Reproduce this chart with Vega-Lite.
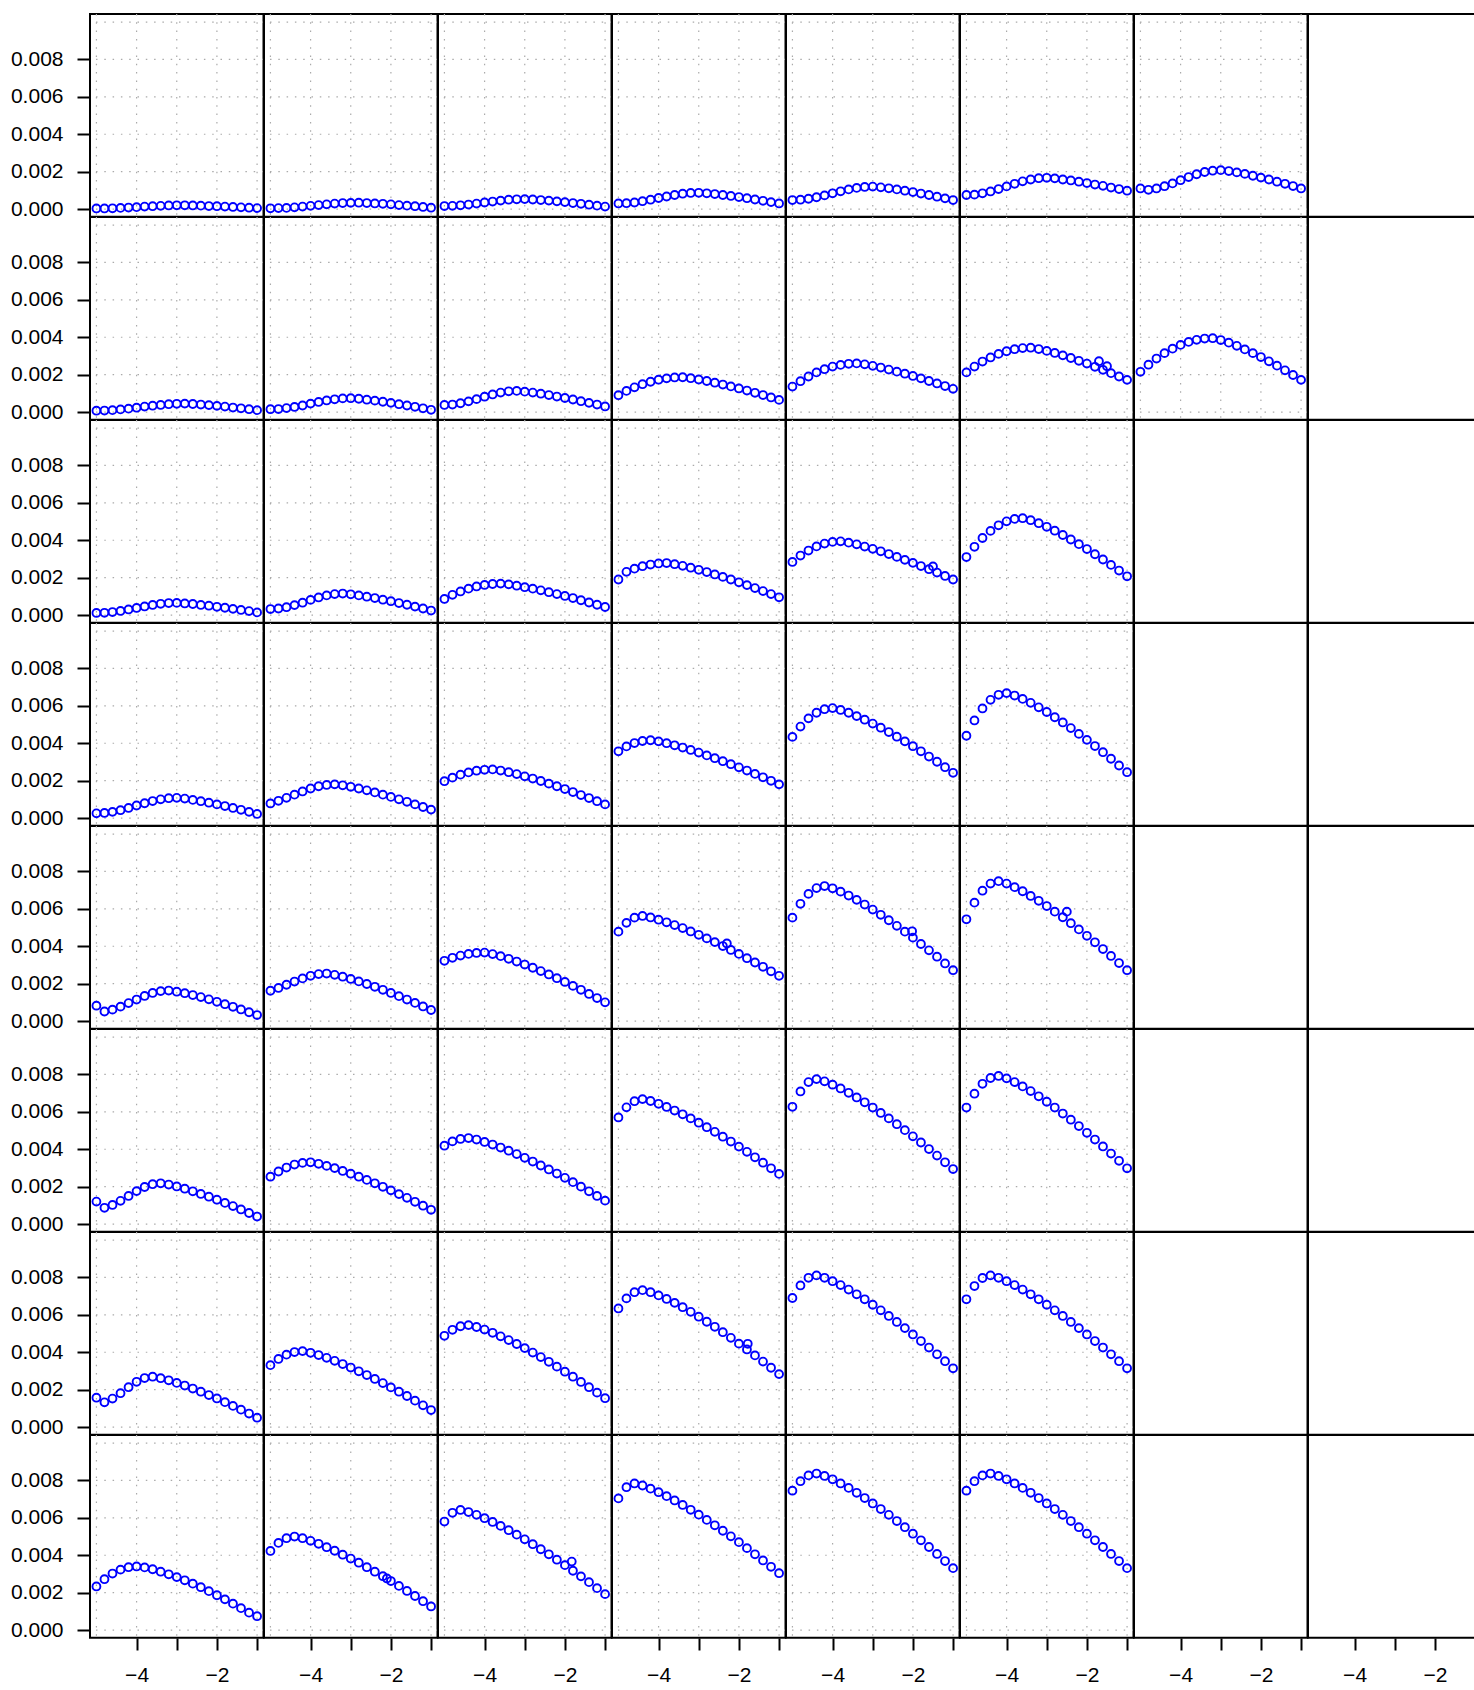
{
"$schema": "https://vega.github.io/schema/vega-lite/v6.json",
"background": "white",
"padding": {"left": 10, "top": 12, "right": 0, "bottom": 0},
"autosize": {"type": "pad"},
"bounds": "flush",
"config": {
  "view": {"stroke": "black", "strokeWidth": 2, "fill": "white"},
  "axis": {"grid": false, "domain": false, "tickColor": "black", "tickWidth": 2, "labelFont": "Liberation Sans", "labelFontSize": 21, "labelColor": "black", "title": null, "labelFlush": false}
},
"spacing": {"row": 0, "column": 0},
"data": {"values": [
{"r":1,"c":1,"x":-5,"y":0.00003},{"r":1,"c":1,"x":-4.8,"y":0.00003},{"r":1,"c":1,"x":-4.6,"y":0.00004},{"r":1,"c":1,"x":-4.4,"y":0.00006},{"r":1,"c":1,"x":-4.2,"y":0.00008},{"r":1,"c":1,"x":-4,"y":0.0001},{"r":1,"c":1,"x":-3.8,"y":0.00013},{"r":1,"c":1,"x":-3.6,"y":0.00015},{"r":1,"c":1,"x":-3.4,"y":0.00017},{"r":1,"c":1,"x":-3.2,"y":0.00019},{"r":1,"c":1,"x":-3,"y":0.0002},{"r":1,"c":1,"x":-2.8,"y":0.0002},{"r":1,"c":1,"x":-2.6,"y":0.00019},{"r":1,"c":1,"x":-2.4,"y":0.00018},{"r":1,"c":1,"x":-2.2,"y":0.00016},{"r":1,"c":1,"x":-2,"y":0.00015},{"r":1,"c":1,"x":-1.8,"y":0.00013},{"r":1,"c":1,"x":-1.6,"y":0.00011},{"r":1,"c":1,"x":-1.4,"y":0.00009},{"r":1,"c":1,"x":-1.2,"y":0.00007},{"r":1,"c":1,"x":-1,"y":0.00005},
{"r":1,"c":2,"x":-5,"y":0.00004},{"r":1,"c":2,"x":-4.8,"y":0.00005},{"r":1,"c":2,"x":-4.6,"y":0.00006},{"r":1,"c":2,"x":-4.4,"y":0.00009},{"r":1,"c":2,"x":-4.2,"y":0.00013},{"r":1,"c":2,"x":-4,"y":0.00017},{"r":1,"c":2,"x":-3.8,"y":0.00021},{"r":1,"c":2,"x":-3.6,"y":0.00025},{"r":1,"c":2,"x":-3.4,"y":0.00029},{"r":1,"c":2,"x":-3.2,"y":0.00032},{"r":1,"c":2,"x":-3,"y":0.00033},{"r":1,"c":2,"x":-2.8,"y":0.00034},{"r":1,"c":2,"x":-2.6,"y":0.00032},{"r":1,"c":2,"x":-2.4,"y":0.0003},{"r":1,"c":2,"x":-2.2,"y":0.00028},{"r":1,"c":2,"x":-2,"y":0.00025},{"r":1,"c":2,"x":-1.8,"y":0.00021},{"r":1,"c":2,"x":-1.6,"y":0.00018},{"r":1,"c":2,"x":-1.4,"y":0.00015},{"r":1,"c":2,"x":-1.2,"y":0.00011},{"r":1,"c":2,"x":-1,"y":0.00007},
{"r":1,"c":3,"x":-5,"y":0.00016},{"r":1,"c":3,"x":-4.8,"y":0.00017},{"r":1,"c":3,"x":-4.6,"y":0.0002},{"r":1,"c":3,"x":-4.4,"y":0.00024},{"r":1,"c":3,"x":-4.2,"y":0.00029},{"r":1,"c":3,"x":-4,"y":0.00035},{"r":1,"c":3,"x":-3.8,"y":0.0004},{"r":1,"c":3,"x":-3.6,"y":0.00045},{"r":1,"c":3,"x":-3.4,"y":0.0005},{"r":1,"c":3,"x":-3.2,"y":0.00052},{"r":1,"c":3,"x":-3,"y":0.00053},{"r":1,"c":3,"x":-2.8,"y":0.00051},{"r":1,"c":3,"x":-2.6,"y":0.00048},{"r":1,"c":3,"x":-2.4,"y":0.00045},{"r":1,"c":3,"x":-2.2,"y":0.00041},{"r":1,"c":3,"x":-2,"y":0.00037},{"r":1,"c":3,"x":-1.8,"y":0.00032},{"r":1,"c":3,"x":-1.6,"y":0.00028},{"r":1,"c":3,"x":-1.4,"y":0.00023},{"r":1,"c":3,"x":-1.2,"y":0.00018},{"r":1,"c":3,"x":-1,"y":0.00013},
{"r":1,"c":4,"x":-5,"y":0.0003},{"r":1,"c":4,"x":-4.8,"y":0.00031},{"r":1,"c":4,"x":-4.6,"y":0.00035},{"r":1,"c":4,"x":-4.4,"y":0.00042},{"r":1,"c":4,"x":-4.2,"y":0.0005},{"r":1,"c":4,"x":-4,"y":0.00059},{"r":1,"c":4,"x":-3.8,"y":0.00067},{"r":1,"c":4,"x":-3.6,"y":0.00075},{"r":1,"c":4,"x":-3.4,"y":0.00082},{"r":1,"c":4,"x":-3.2,"y":0.00086},{"r":1,"c":4,"x":-3,"y":0.00087},{"r":1,"c":4,"x":-2.8,"y":0.00084},{"r":1,"c":4,"x":-2.6,"y":0.0008},{"r":1,"c":4,"x":-2.4,"y":0.00075},{"r":1,"c":4,"x":-2.2,"y":0.0007},{"r":1,"c":4,"x":-2,"y":0.00064},{"r":1,"c":4,"x":-1.8,"y":0.00058},{"r":1,"c":4,"x":-1.6,"y":0.00051},{"r":1,"c":4,"x":-1.4,"y":0.00044},{"r":1,"c":4,"x":-1.2,"y":0.00037},{"r":1,"c":4,"x":-1,"y":0.0003},
{"r":1,"c":5,"x":-5,"y":0.00048},{"r":1,"c":5,"x":-4.8,"y":0.0005},{"r":1,"c":5,"x":-4.6,"y":0.00055},{"r":1,"c":5,"x":-4.4,"y":0.00063},{"r":1,"c":5,"x":-4.2,"y":0.00073},{"r":1,"c":5,"x":-4,"y":0.00084},{"r":1,"c":5,"x":-3.8,"y":0.00095},{"r":1,"c":5,"x":-3.6,"y":0.00105},{"r":1,"c":5,"x":-3.4,"y":0.00113},{"r":1,"c":5,"x":-3.2,"y":0.00118},{"r":1,"c":5,"x":-3,"y":0.0012},{"r":1,"c":5,"x":-2.8,"y":0.00116},{"r":1,"c":5,"x":-2.6,"y":0.00111},{"r":1,"c":5,"x":-2.4,"y":0.00105},{"r":1,"c":5,"x":-2.2,"y":0.00098},{"r":1,"c":5,"x":-2,"y":0.00091},{"r":1,"c":5,"x":-1.8,"y":0.00083},{"r":1,"c":5,"x":-1.6,"y":0.00075},{"r":1,"c":5,"x":-1.4,"y":0.00066},{"r":1,"c":5,"x":-1.2,"y":0.00057},{"r":1,"c":5,"x":-1,"y":0.00048},
{"r":1,"c":6,"x":-5,"y":0.00075},{"r":1,"c":6,"x":-4.8,"y":0.00077},{"r":1,"c":6,"x":-4.6,"y":0.00084},{"r":1,"c":6,"x":-4.4,"y":0.00094},{"r":1,"c":6,"x":-4.2,"y":0.00107},{"r":1,"c":6,"x":-4,"y":0.00121},{"r":1,"c":6,"x":-3.8,"y":0.00135},{"r":1,"c":6,"x":-3.6,"y":0.00148},{"r":1,"c":6,"x":-3.4,"y":0.00158},{"r":1,"c":6,"x":-3.2,"y":0.00165},{"r":1,"c":6,"x":-3,"y":0.00167},{"r":1,"c":6,"x":-2.8,"y":0.00164},{"r":1,"c":6,"x":-2.6,"y":0.00158},{"r":1,"c":6,"x":-2.4,"y":0.00153},{"r":1,"c":6,"x":-2.2,"y":0.00146},{"r":1,"c":6,"x":-2,"y":0.00139},{"r":1,"c":6,"x":-1.8,"y":0.00131},{"r":1,"c":6,"x":-1.6,"y":0.00124},{"r":1,"c":6,"x":-1.4,"y":0.00115},{"r":1,"c":6,"x":-1.2,"y":0.00107},{"r":1,"c":6,"x":-1,"y":0.00098},
{"r":1,"c":7,"x":-5,"y":0.0011},{"r":1,"c":7,"x":-4.8,"y":0.00103},{"r":1,"c":7,"x":-4.6,"y":0.0011},{"r":1,"c":7,"x":-4.4,"y":0.00122},{"r":1,"c":7,"x":-4.2,"y":0.00137},{"r":1,"c":7,"x":-4,"y":0.00154},{"r":1,"c":7,"x":-3.8,"y":0.00171},{"r":1,"c":7,"x":-3.6,"y":0.00186},{"r":1,"c":7,"x":-3.4,"y":0.00198},{"r":1,"c":7,"x":-3.2,"y":0.00205},{"r":1,"c":7,"x":-3,"y":0.00208},{"r":1,"c":7,"x":-2.8,"y":0.00203},{"r":1,"c":7,"x":-2.6,"y":0.00196},{"r":1,"c":7,"x":-2.4,"y":0.00188},{"r":1,"c":7,"x":-2.2,"y":0.00178},{"r":1,"c":7,"x":-2,"y":0.00168},{"r":1,"c":7,"x":-1.8,"y":0.00158},{"r":1,"c":7,"x":-1.6,"y":0.00146},{"r":1,"c":7,"x":-1.4,"y":0.00135},{"r":1,"c":7,"x":-1.2,"y":0.00123},{"r":1,"c":7,"x":-1,"y":0.0011},
{"r":2,"c":1,"x":-5,"y":0.00007},{"r":2,"c":1,"x":-4.8,"y":0.00008},{"r":2,"c":1,"x":-4.6,"y":0.0001},{"r":2,"c":1,"x":-4.4,"y":0.00014},{"r":2,"c":1,"x":-4.2,"y":0.00018},{"r":2,"c":1,"x":-4,"y":0.00023},{"r":2,"c":1,"x":-3.8,"y":0.00029},{"r":2,"c":1,"x":-3.6,"y":0.00034},{"r":2,"c":1,"x":-3.4,"y":0.00038},{"r":2,"c":1,"x":-3.2,"y":0.00042},{"r":2,"c":1,"x":-3,"y":0.00044},{"r":2,"c":1,"x":-2.8,"y":0.00045},{"r":2,"c":1,"x":-2.6,"y":0.00043},{"r":2,"c":1,"x":-2.4,"y":0.0004},{"r":2,"c":1,"x":-2.2,"y":0.00037},{"r":2,"c":1,"x":-2,"y":0.00033},{"r":2,"c":1,"x":-1.8,"y":0.00029},{"r":2,"c":1,"x":-1.6,"y":0.00024},{"r":2,"c":1,"x":-1.4,"y":0.0002},{"r":2,"c":1,"x":-1.2,"y":0.00015},{"r":2,"c":1,"x":-1,"y":0.0001},
{"r":2,"c":2,"x":-5,"y":0.00015},{"r":2,"c":2,"x":-4.8,"y":0.00016},{"r":2,"c":2,"x":-4.6,"y":0.00021},{"r":2,"c":2,"x":-4.4,"y":0.00027},{"r":2,"c":2,"x":-4.2,"y":0.00035},{"r":2,"c":2,"x":-4,"y":0.00045},{"r":2,"c":2,"x":-3.8,"y":0.00054},{"r":2,"c":2,"x":-3.6,"y":0.00062},{"r":2,"c":2,"x":-3.4,"y":0.00068},{"r":2,"c":2,"x":-3.2,"y":0.00073},{"r":2,"c":2,"x":-3,"y":0.00074},{"r":2,"c":2,"x":-2.8,"y":0.00071},{"r":2,"c":2,"x":-2.6,"y":0.00066},{"r":2,"c":2,"x":-2.4,"y":0.00061},{"r":2,"c":2,"x":-2.2,"y":0.00055},{"r":2,"c":2,"x":-2,"y":0.00049},{"r":2,"c":2,"x":-1.8,"y":0.00042},{"r":2,"c":2,"x":-1.6,"y":0.00035},{"r":2,"c":2,"x":-1.4,"y":0.00028},{"r":2,"c":2,"x":-1.2,"y":0.0002},{"r":2,"c":2,"x":-1,"y":0.00012},
{"r":2,"c":3,"x":-5,"y":0.00038},{"r":2,"c":3,"x":-4.8,"y":0.0004},{"r":2,"c":3,"x":-4.6,"y":0.00047},{"r":2,"c":3,"x":-4.4,"y":0.00057},{"r":2,"c":3,"x":-4.2,"y":0.00069},{"r":2,"c":3,"x":-4,"y":0.00082},{"r":2,"c":3,"x":-3.8,"y":0.00094},{"r":2,"c":3,"x":-3.6,"y":0.00104},{"r":2,"c":3,"x":-3.4,"y":0.00111},{"r":2,"c":3,"x":-3.2,"y":0.00113},{"r":2,"c":3,"x":-3,"y":0.00109},{"r":2,"c":3,"x":-2.8,"y":0.00104},{"r":2,"c":3,"x":-2.6,"y":0.00098},{"r":2,"c":3,"x":-2.4,"y":0.00091},{"r":2,"c":3,"x":-2.2,"y":0.00083},{"r":2,"c":3,"x":-2,"y":0.00075},{"r":2,"c":3,"x":-1.8,"y":0.00067},{"r":2,"c":3,"x":-1.6,"y":0.00058},{"r":2,"c":3,"x":-1.4,"y":0.00049},{"r":2,"c":3,"x":-1.2,"y":0.0004},{"r":2,"c":3,"x":-1,"y":0.0003},
{"r":2,"c":4,"x":-5,"y":0.0009},{"r":2,"c":4,"x":-4.8,"y":0.00113},{"r":2,"c":4,"x":-4.6,"y":0.00132},{"r":2,"c":4,"x":-4.4,"y":0.00149},{"r":2,"c":4,"x":-4.2,"y":0.00162},{"r":2,"c":4,"x":-4,"y":0.00173},{"r":2,"c":4,"x":-3.8,"y":0.0018},{"r":2,"c":4,"x":-3.6,"y":0.00185},{"r":2,"c":4,"x":-3.4,"y":0.00186},{"r":2,"c":4,"x":-3.2,"y":0.00181},{"r":2,"c":4,"x":-3,"y":0.00174},{"r":2,"c":4,"x":-2.8,"y":0.00166},{"r":2,"c":4,"x":-2.6,"y":0.00157},{"r":2,"c":4,"x":-2.4,"y":0.00147},{"r":2,"c":4,"x":-2.2,"y":0.00137},{"r":2,"c":4,"x":-2,"y":0.00126},{"r":2,"c":4,"x":-1.8,"y":0.00115},{"r":2,"c":4,"x":-1.6,"y":0.00103},{"r":2,"c":4,"x":-1.4,"y":0.00091},{"r":2,"c":4,"x":-1.2,"y":0.00078},{"r":2,"c":4,"x":-1,"y":0.00065},
{"r":2,"c":5,"x":-5,"y":0.00136},{"r":2,"c":5,"x":-4.8,"y":0.00165},{"r":2,"c":5,"x":-4.6,"y":0.0019},{"r":2,"c":5,"x":-4.4,"y":0.00212},{"r":2,"c":5,"x":-4.2,"y":0.00229},{"r":2,"c":5,"x":-4,"y":0.00243},{"r":2,"c":5,"x":-3.8,"y":0.00252},{"r":2,"c":5,"x":-3.6,"y":0.00258},{"r":2,"c":5,"x":-3.4,"y":0.0026},{"r":2,"c":5,"x":-3.2,"y":0.00255},{"r":2,"c":5,"x":-3,"y":0.00247},{"r":2,"c":5,"x":-2.8,"y":0.00238},{"r":2,"c":5,"x":-2.6,"y":0.00227},{"r":2,"c":5,"x":-2.4,"y":0.00216},{"r":2,"c":5,"x":-2.2,"y":0.00205},{"r":2,"c":5,"x":-2,"y":0.00193},{"r":2,"c":5,"x":-1.8,"y":0.0018},{"r":2,"c":5,"x":-1.6,"y":0.00166},{"r":2,"c":5,"x":-1.4,"y":0.00153},{"r":2,"c":5,"x":-1.2,"y":0.00139},{"r":2,"c":5,"x":-1,"y":0.00124},
{"r":2,"c":6,"x":-5,"y":0.00212},{"r":2,"c":6,"x":-4.8,"y":0.00243},{"r":2,"c":6,"x":-4.6,"y":0.0027},{"r":2,"c":6,"x":-4.4,"y":0.00292},{"r":2,"c":6,"x":-4.2,"y":0.00311},{"r":2,"c":6,"x":-4,"y":0.00325},{"r":2,"c":6,"x":-3.8,"y":0.00336},{"r":2,"c":6,"x":-3.6,"y":0.00342},{"r":2,"c":6,"x":-3.4,"y":0.00344},{"r":2,"c":6,"x":-3.2,"y":0.00337},{"r":2,"c":6,"x":-3,"y":0.00327},{"r":2,"c":6,"x":-2.8,"y":0.00316},{"r":2,"c":6,"x":-2.6,"y":0.00303},{"r":2,"c":6,"x":-2.4,"y":0.00289},{"r":2,"c":6,"x":-2.2,"y":0.00274},{"r":2,"c":6,"x":-2,"y":0.00259},{"r":2,"c":6,"x":-1.8,"y":0.00242},{"r":2,"c":6,"x":-1.6,"y":0.00226},{"r":2,"c":6,"x":-1.4,"y":0.00208},{"r":2,"c":6,"x":-1.2,"y":0.0019},{"r":2,"c":6,"x":-1,"y":0.00172},{"r":2,"c":6,"x":-1.7,"y":0.00272},{"r":2,"c":6,"x":-1.5,"y":0.00245},
{"r":2,"c":7,"x":-5,"y":0.00215},{"r":2,"c":7,"x":-4.8,"y":0.00253},{"r":2,"c":7,"x":-4.6,"y":0.00286},{"r":2,"c":7,"x":-4.4,"y":0.00315},{"r":2,"c":7,"x":-4.2,"y":0.00339},{"r":2,"c":7,"x":-4,"y":0.00359},{"r":2,"c":7,"x":-3.8,"y":0.00375},{"r":2,"c":7,"x":-3.6,"y":0.00386},{"r":2,"c":7,"x":-3.4,"y":0.00393},{"r":2,"c":7,"x":-3.2,"y":0.00395},{"r":2,"c":7,"x":-3,"y":0.00385},{"r":2,"c":7,"x":-2.8,"y":0.00371},{"r":2,"c":7,"x":-2.6,"y":0.00354},{"r":2,"c":7,"x":-2.4,"y":0.00335},{"r":2,"c":7,"x":-2.2,"y":0.00315},{"r":2,"c":7,"x":-2,"y":0.00294},{"r":2,"c":7,"x":-1.8,"y":0.00271},{"r":2,"c":7,"x":-1.6,"y":0.00248},{"r":2,"c":7,"x":-1.4,"y":0.00223},{"r":2,"c":7,"x":-1.2,"y":0.00198},{"r":2,"c":7,"x":-1,"y":0.00172},
{"r":3,"c":1,"x":-5,"y":0.00011},{"r":3,"c":1,"x":-4.8,"y":0.00012},{"r":3,"c":1,"x":-4.6,"y":0.00016},{"r":3,"c":1,"x":-4.4,"y":0.00022},{"r":3,"c":1,"x":-4.2,"y":0.0003},{"r":3,"c":1,"x":-4,"y":0.00038},{"r":3,"c":1,"x":-3.8,"y":0.00046},{"r":3,"c":1,"x":-3.6,"y":0.00054},{"r":3,"c":1,"x":-3.4,"y":0.0006},{"r":3,"c":1,"x":-3.2,"y":0.00064},{"r":3,"c":1,"x":-3,"y":0.00065},{"r":3,"c":1,"x":-2.8,"y":0.00062},{"r":3,"c":1,"x":-2.6,"y":0.00059},{"r":3,"c":1,"x":-2.4,"y":0.00054},{"r":3,"c":1,"x":-2.2,"y":0.0005},{"r":3,"c":1,"x":-2,"y":0.00044},{"r":3,"c":1,"x":-1.8,"y":0.00039},{"r":3,"c":1,"x":-1.6,"y":0.00033},{"r":3,"c":1,"x":-1.4,"y":0.00027},{"r":3,"c":1,"x":-1.2,"y":0.00021},{"r":3,"c":1,"x":-1,"y":0.00014},
{"r":3,"c":2,"x":-5,"y":0.00032},{"r":3,"c":2,"x":-4.8,"y":0.00035},{"r":3,"c":2,"x":-4.6,"y":0.00042},{"r":3,"c":2,"x":-4.4,"y":0.00053},{"r":3,"c":2,"x":-4.2,"y":0.00066},{"r":3,"c":2,"x":-4,"y":0.00081},{"r":3,"c":2,"x":-3.8,"y":0.00094},{"r":3,"c":2,"x":-3.6,"y":0.00105},{"r":3,"c":2,"x":-3.4,"y":0.00112},{"r":3,"c":2,"x":-3.2,"y":0.00115},{"r":3,"c":2,"x":-3,"y":0.00111},{"r":3,"c":2,"x":-2.8,"y":0.00105},{"r":3,"c":2,"x":-2.6,"y":0.00098},{"r":3,"c":2,"x":-2.4,"y":0.00091},{"r":3,"c":2,"x":-2.2,"y":0.00082},{"r":3,"c":2,"x":-2,"y":0.00074},{"r":3,"c":2,"x":-1.8,"y":0.00064},{"r":3,"c":2,"x":-1.6,"y":0.00055},{"r":3,"c":2,"x":-1.4,"y":0.00045},{"r":3,"c":2,"x":-1.2,"y":0.00035},{"r":3,"c":2,"x":-1,"y":0.00024},
{"r":3,"c":3,"x":-5,"y":0.00086},{"r":3,"c":3,"x":-4.8,"y":0.00108},{"r":3,"c":3,"x":-4.6,"y":0.00126},{"r":3,"c":3,"x":-4.4,"y":0.00141},{"r":3,"c":3,"x":-4.2,"y":0.00153},{"r":3,"c":3,"x":-4,"y":0.00161},{"r":3,"c":3,"x":-3.8,"y":0.00166},{"r":3,"c":3,"x":-3.6,"y":0.00168},{"r":3,"c":3,"x":-3.4,"y":0.00164},{"r":3,"c":3,"x":-3.2,"y":0.00157},{"r":3,"c":3,"x":-3,"y":0.00149},{"r":3,"c":3,"x":-2.8,"y":0.00141},{"r":3,"c":3,"x":-2.6,"y":0.00132},{"r":3,"c":3,"x":-2.4,"y":0.00122},{"r":3,"c":3,"x":-2.2,"y":0.00112},{"r":3,"c":3,"x":-2,"y":0.00102},{"r":3,"c":3,"x":-1.8,"y":0.00091},{"r":3,"c":3,"x":-1.6,"y":0.00079},{"r":3,"c":3,"x":-1.4,"y":0.00067},{"r":3,"c":3,"x":-1.2,"y":0.00055},{"r":3,"c":3,"x":-1,"y":0.00043},
{"r":3,"c":4,"x":-5,"y":0.0019},{"r":3,"c":4,"x":-4.8,"y":0.00231},{"r":3,"c":4,"x":-4.6,"y":0.00248},{"r":3,"c":4,"x":-4.4,"y":0.00261},{"r":3,"c":4,"x":-4.2,"y":0.0027},{"r":3,"c":4,"x":-4,"y":0.00276},{"r":3,"c":4,"x":-3.8,"y":0.00278},{"r":3,"c":4,"x":-3.6,"y":0.00272},{"r":3,"c":4,"x":-3.4,"y":0.00263},{"r":3,"c":4,"x":-3.2,"y":0.00253},{"r":3,"c":4,"x":-3,"y":0.00242},{"r":3,"c":4,"x":-2.8,"y":0.0023},{"r":3,"c":4,"x":-2.6,"y":0.00217},{"r":3,"c":4,"x":-2.4,"y":0.00204},{"r":3,"c":4,"x":-2.2,"y":0.0019},{"r":3,"c":4,"x":-2,"y":0.00175},{"r":3,"c":4,"x":-1.8,"y":0.0016},{"r":3,"c":4,"x":-1.6,"y":0.00144},{"r":3,"c":4,"x":-1.4,"y":0.00128},{"r":3,"c":4,"x":-1.2,"y":0.00112},{"r":3,"c":4,"x":-1,"y":0.00095},
{"r":3,"c":5,"x":-5,"y":0.00284},{"r":3,"c":5,"x":-4.8,"y":0.00318},{"r":3,"c":5,"x":-4.6,"y":0.00345},{"r":3,"c":5,"x":-4.4,"y":0.00367},{"r":3,"c":5,"x":-4.2,"y":0.00382},{"r":3,"c":5,"x":-4,"y":0.00391},{"r":3,"c":5,"x":-3.8,"y":0.00394},{"r":3,"c":5,"x":-3.6,"y":0.00387},{"r":3,"c":5,"x":-3.4,"y":0.00378},{"r":3,"c":5,"x":-3.2,"y":0.00366},{"r":3,"c":5,"x":-3,"y":0.00354},{"r":3,"c":5,"x":-2.8,"y":0.00341},{"r":3,"c":5,"x":-2.6,"y":0.00326},{"r":3,"c":5,"x":-2.4,"y":0.00311},{"r":3,"c":5,"x":-2.2,"y":0.00295},{"r":3,"c":5,"x":-2,"y":0.00279},{"r":3,"c":5,"x":-1.8,"y":0.00262},{"r":3,"c":5,"x":-1.6,"y":0.00245},{"r":3,"c":5,"x":-1.4,"y":0.00227},{"r":3,"c":5,"x":-1.2,"y":0.00209},{"r":3,"c":5,"x":-1,"y":0.0019},{"r":3,"c":5,"x":-1.5,"y":0.0026},
{"r":3,"c":6,"x":-5,"y":0.0031},{"r":3,"c":6,"x":-4.8,"y":0.00365},{"r":3,"c":6,"x":-4.6,"y":0.00412},{"r":3,"c":6,"x":-4.4,"y":0.0045},{"r":3,"c":6,"x":-4.2,"y":0.0048},{"r":3,"c":6,"x":-4,"y":0.00501},{"r":3,"c":6,"x":-3.8,"y":0.00514},{"r":3,"c":6,"x":-3.6,"y":0.00518},{"r":3,"c":6,"x":-3.4,"y":0.00507},{"r":3,"c":6,"x":-3.2,"y":0.00491},{"r":3,"c":6,"x":-3,"y":0.00472},{"r":3,"c":6,"x":-2.8,"y":0.00451},{"r":3,"c":6,"x":-2.6,"y":0.00428},{"r":3,"c":6,"x":-2.4,"y":0.00404},{"r":3,"c":6,"x":-2.2,"y":0.00379},{"r":3,"c":6,"x":-2,"y":0.00353},{"r":3,"c":6,"x":-1.8,"y":0.00325},{"r":3,"c":6,"x":-1.6,"y":0.00297},{"r":3,"c":6,"x":-1.4,"y":0.00268},{"r":3,"c":6,"x":-1.2,"y":0.00238},{"r":3,"c":6,"x":-1,"y":0.00207},
{"r":4,"c":1,"x":-5,"y":0.00025},{"r":4,"c":1,"x":-4.8,"y":0.00027},{"r":4,"c":1,"x":-4.6,"y":0.00033},{"r":4,"c":1,"x":-4.4,"y":0.00042},{"r":4,"c":1,"x":-4.2,"y":0.00054},{"r":4,"c":1,"x":-4,"y":0.00067},{"r":4,"c":1,"x":-3.8,"y":0.00079},{"r":4,"c":1,"x":-3.6,"y":0.00091},{"r":4,"c":1,"x":-3.4,"y":0.001},{"r":4,"c":1,"x":-3.2,"y":0.00106},{"r":4,"c":1,"x":-3,"y":0.00108},{"r":4,"c":1,"x":-2.8,"y":0.00104},{"r":4,"c":1,"x":-2.6,"y":0.00097},{"r":4,"c":1,"x":-2.4,"y":0.0009},{"r":4,"c":1,"x":-2.2,"y":0.00082},{"r":4,"c":1,"x":-2,"y":0.00073},{"r":4,"c":1,"x":-1.8,"y":0.00064},{"r":4,"c":1,"x":-1.6,"y":0.00054},{"r":4,"c":1,"x":-1.4,"y":0.00044},{"r":4,"c":1,"x":-1.2,"y":0.00033},{"r":4,"c":1,"x":-1,"y":0.00022},
{"r":4,"c":2,"x":-5,"y":0.00078},{"r":4,"c":2,"x":-4.8,"y":0.00092},{"r":4,"c":2,"x":-4.6,"y":0.00108},{"r":4,"c":2,"x":-4.4,"y":0.00125},{"r":4,"c":2,"x":-4.2,"y":0.00142},{"r":4,"c":2,"x":-4,"y":0.00158},{"r":4,"c":2,"x":-3.8,"y":0.0017},{"r":4,"c":2,"x":-3.6,"y":0.00177},{"r":4,"c":2,"x":-3.4,"y":0.0018},{"r":4,"c":2,"x":-3.2,"y":0.00175},{"r":4,"c":2,"x":-3,"y":0.00167},{"r":4,"c":2,"x":-2.8,"y":0.00158},{"r":4,"c":2,"x":-2.6,"y":0.00148},{"r":4,"c":2,"x":-2.4,"y":0.00137},{"r":4,"c":2,"x":-2.2,"y":0.00125},{"r":4,"c":2,"x":-2,"y":0.00113},{"r":4,"c":2,"x":-1.8,"y":0.001},{"r":4,"c":2,"x":-1.6,"y":0.00087},{"r":4,"c":2,"x":-1.4,"y":0.00073},{"r":4,"c":2,"x":-1.2,"y":0.00059},{"r":4,"c":2,"x":-1,"y":0.00045},
{"r":4,"c":3,"x":-5,"y":0.00197},{"r":4,"c":3,"x":-4.8,"y":0.00216},{"r":4,"c":3,"x":-4.6,"y":0.00232},{"r":4,"c":3,"x":-4.4,"y":0.00244},{"r":4,"c":3,"x":-4.2,"y":0.00253},{"r":4,"c":3,"x":-4,"y":0.00258},{"r":4,"c":3,"x":-3.8,"y":0.0026},{"r":4,"c":3,"x":-3.6,"y":0.00254},{"r":4,"c":3,"x":-3.4,"y":0.00245},{"r":4,"c":3,"x":-3.2,"y":0.00235},{"r":4,"c":3,"x":-3,"y":0.00223},{"r":4,"c":3,"x":-2.8,"y":0.00211},{"r":4,"c":3,"x":-2.6,"y":0.00198},{"r":4,"c":3,"x":-2.4,"y":0.00184},{"r":4,"c":3,"x":-2.2,"y":0.0017},{"r":4,"c":3,"x":-2,"y":0.00155},{"r":4,"c":3,"x":-1.8,"y":0.00139},{"r":4,"c":3,"x":-1.6,"y":0.00123},{"r":4,"c":3,"x":-1.4,"y":0.00107},{"r":4,"c":3,"x":-1.2,"y":0.0009},{"r":4,"c":3,"x":-1,"y":0.00073},
{"r":4,"c":4,"x":-5,"y":0.00357},{"r":4,"c":4,"x":-4.8,"y":0.00383},{"r":4,"c":4,"x":-4.6,"y":0.00401},{"r":4,"c":4,"x":-4.4,"y":0.00412},{"r":4,"c":4,"x":-4.2,"y":0.00416},{"r":4,"c":4,"x":-4,"y":0.0041},{"r":4,"c":4,"x":-3.8,"y":0.004},{"r":4,"c":4,"x":-3.6,"y":0.00389},{"r":4,"c":4,"x":-3.4,"y":0.00377},{"r":4,"c":4,"x":-3.2,"y":0.00364},{"r":4,"c":4,"x":-3,"y":0.0035},{"r":4,"c":4,"x":-2.8,"y":0.00335},{"r":4,"c":4,"x":-2.6,"y":0.0032},{"r":4,"c":4,"x":-2.4,"y":0.00304},{"r":4,"c":4,"x":-2.2,"y":0.00288},{"r":4,"c":4,"x":-2,"y":0.00271},{"r":4,"c":4,"x":-1.8,"y":0.00254},{"r":4,"c":4,"x":-1.6,"y":0.00236},{"r":4,"c":4,"x":-1.4,"y":0.00218},{"r":4,"c":4,"x":-1.2,"y":0.00199},{"r":4,"c":4,"x":-1,"y":0.0018},
{"r":4,"c":5,"x":-5,"y":0.00434},{"r":4,"c":5,"x":-4.8,"y":0.00489},{"r":4,"c":5,"x":-4.6,"y":0.00533},{"r":4,"c":5,"x":-4.4,"y":0.00563},{"r":4,"c":5,"x":-4.2,"y":0.00582},{"r":4,"c":5,"x":-4,"y":0.00588},{"r":4,"c":5,"x":-3.8,"y":0.00578},{"r":4,"c":5,"x":-3.6,"y":0.00563},{"r":4,"c":5,"x":-3.4,"y":0.00545},{"r":4,"c":5,"x":-3.2,"y":0.00526},{"r":4,"c":5,"x":-3,"y":0.00505},{"r":4,"c":5,"x":-2.8,"y":0.00483},{"r":4,"c":5,"x":-2.6,"y":0.0046},{"r":4,"c":5,"x":-2.4,"y":0.00435},{"r":4,"c":5,"x":-2.2,"y":0.0041},{"r":4,"c":5,"x":-2,"y":0.00384},{"r":4,"c":5,"x":-1.8,"y":0.00357},{"r":4,"c":5,"x":-1.6,"y":0.00329},{"r":4,"c":5,"x":-1.4,"y":0.00301},{"r":4,"c":5,"x":-1.2,"y":0.00272},{"r":4,"c":5,"x":-1,"y":0.00242},
{"r":4,"c":6,"x":-5,"y":0.0044},{"r":4,"c":6,"x":-4.8,"y":0.00522},{"r":4,"c":6,"x":-4.6,"y":0.00586},{"r":4,"c":6,"x":-4.4,"y":0.00632},{"r":4,"c":6,"x":-4.2,"y":0.00659},{"r":4,"c":6,"x":-4,"y":0.00668},{"r":4,"c":6,"x":-3.8,"y":0.00655},{"r":4,"c":6,"x":-3.6,"y":0.00637},{"r":4,"c":6,"x":-3.4,"y":0.00616},{"r":4,"c":6,"x":-3.2,"y":0.00592},{"r":4,"c":6,"x":-3,"y":0.00567},{"r":4,"c":6,"x":-2.8,"y":0.00539},{"r":4,"c":6,"x":-2.6,"y":0.00511},{"r":4,"c":6,"x":-2.4,"y":0.00481},{"r":4,"c":6,"x":-2.2,"y":0.0045},{"r":4,"c":6,"x":-2,"y":0.00418},{"r":4,"c":6,"x":-1.8,"y":0.00385},{"r":4,"c":6,"x":-1.6,"y":0.00352},{"r":4,"c":6,"x":-1.4,"y":0.00317},{"r":4,"c":6,"x":-1.2,"y":0.00281},{"r":4,"c":6,"x":-1,"y":0.00245},
{"r":5,"c":1,"x":-5,"y":0.00082},{"r":5,"c":1,"x":-4.8,"y":0.00051},{"r":5,"c":1,"x":-4.6,"y":0.00061},{"r":5,"c":1,"x":-4.4,"y":0.00077},{"r":5,"c":1,"x":-4.2,"y":0.00096},{"r":5,"c":1,"x":-4,"y":0.00115},{"r":5,"c":1,"x":-3.8,"y":0.00134},{"r":5,"c":1,"x":-3.6,"y":0.0015},{"r":5,"c":1,"x":-3.4,"y":0.0016},{"r":5,"c":1,"x":-3.2,"y":0.00163},{"r":5,"c":1,"x":-3,"y":0.00157},{"r":5,"c":1,"x":-2.8,"y":0.00149},{"r":5,"c":1,"x":-2.6,"y":0.00139},{"r":5,"c":1,"x":-2.4,"y":0.00128},{"r":5,"c":1,"x":-2.2,"y":0.00116},{"r":5,"c":1,"x":-2,"y":0.00103},{"r":5,"c":1,"x":-1.8,"y":0.0009},{"r":5,"c":1,"x":-1.6,"y":0.00076},{"r":5,"c":1,"x":-1.4,"y":0.00062},{"r":5,"c":1,"x":-1.2,"y":0.00047},{"r":5,"c":1,"x":-1,"y":0.00032},
{"r":5,"c":2,"x":-5,"y":0.00162},{"r":5,"c":2,"x":-4.8,"y":0.00177},{"r":5,"c":2,"x":-4.6,"y":0.00194},{"r":5,"c":2,"x":-4.4,"y":0.00211},{"r":5,"c":2,"x":-4.2,"y":0.00228},{"r":5,"c":2,"x":-4,"y":0.00242},{"r":5,"c":2,"x":-3.8,"y":0.00251},{"r":5,"c":2,"x":-3.6,"y":0.00254},{"r":5,"c":2,"x":-3.4,"y":0.00247},{"r":5,"c":2,"x":-3.2,"y":0.00237},{"r":5,"c":2,"x":-3,"y":0.00225},{"r":5,"c":2,"x":-2.8,"y":0.00212},{"r":5,"c":2,"x":-2.6,"y":0.00198},{"r":5,"c":2,"x":-2.4,"y":0.00183},{"r":5,"c":2,"x":-2.2,"y":0.00167},{"r":5,"c":2,"x":-2,"y":0.0015},{"r":5,"c":2,"x":-1.8,"y":0.00133},{"r":5,"c":2,"x":-1.6,"y":0.00115},{"r":5,"c":2,"x":-1.4,"y":0.00097},{"r":5,"c":2,"x":-1.2,"y":0.00078},{"r":5,"c":2,"x":-1,"y":0.00059},
{"r":5,"c":3,"x":-5,"y":0.00322},{"r":5,"c":3,"x":-4.8,"y":0.00338},{"r":5,"c":3,"x":-4.6,"y":0.0035},{"r":5,"c":3,"x":-4.4,"y":0.00359},{"r":5,"c":3,"x":-4.2,"y":0.00364},{"r":5,"c":3,"x":-4,"y":0.00366},{"r":5,"c":3,"x":-3.8,"y":0.00358},{"r":5,"c":3,"x":-3.6,"y":0.00347},{"r":5,"c":3,"x":-3.4,"y":0.00333},{"r":5,"c":3,"x":-3.2,"y":0.00318},{"r":5,"c":3,"x":-3,"y":0.00302},{"r":5,"c":3,"x":-2.8,"y":0.00285},{"r":5,"c":3,"x":-2.6,"y":0.00267},{"r":5,"c":3,"x":-2.4,"y":0.00249},{"r":5,"c":3,"x":-2.2,"y":0.00229},{"r":5,"c":3,"x":-2,"y":0.00209},{"r":5,"c":3,"x":-1.8,"y":0.00188},{"r":5,"c":3,"x":-1.6,"y":0.00167},{"r":5,"c":3,"x":-1.4,"y":0.00145},{"r":5,"c":3,"x":-1.2,"y":0.00123},{"r":5,"c":3,"x":-1,"y":0.001},
{"r":5,"c":4,"x":-5,"y":0.00478},{"r":5,"c":4,"x":-4.8,"y":0.00525},{"r":5,"c":4,"x":-4.6,"y":0.00553},{"r":5,"c":4,"x":-4.4,"y":0.00562},{"r":5,"c":4,"x":-4.2,"y":0.00554},{"r":5,"c":4,"x":-4,"y":0.00542},{"r":5,"c":4,"x":-3.8,"y":0.00528},{"r":5,"c":4,"x":-3.6,"y":0.00513},{"r":5,"c":4,"x":-3.4,"y":0.00497},{"r":5,"c":4,"x":-3.2,"y":0.00479},{"r":5,"c":4,"x":-3,"y":0.00461},{"r":5,"c":4,"x":-2.8,"y":0.00442},{"r":5,"c":4,"x":-2.6,"y":0.00422},{"r":5,"c":4,"x":-2.4,"y":0.00401},{"r":5,"c":4,"x":-2.2,"y":0.0038},{"r":5,"c":4,"x":-2,"y":0.00359},{"r":5,"c":4,"x":-1.8,"y":0.00336},{"r":5,"c":4,"x":-1.6,"y":0.00313},{"r":5,"c":4,"x":-1.4,"y":0.0029},{"r":5,"c":4,"x":-1.2,"y":0.00266},{"r":5,"c":4,"x":-1,"y":0.00242},{"r":5,"c":4,"x":-2.3,"y":0.00415},
{"r":5,"c":5,"x":-5,"y":0.00553},{"r":5,"c":5,"x":-4.8,"y":0.00627},{"r":5,"c":5,"x":-4.6,"y":0.0068},{"r":5,"c":5,"x":-4.4,"y":0.00711},{"r":5,"c":5,"x":-4.2,"y":0.00722},{"r":5,"c":5,"x":-4,"y":0.0071},{"r":5,"c":5,"x":-3.8,"y":0.00692},{"r":5,"c":5,"x":-3.6,"y":0.00671},{"r":5,"c":5,"x":-3.4,"y":0.00648},{"r":5,"c":5,"x":-3.2,"y":0.00623},{"r":5,"c":5,"x":-3,"y":0.00596},{"r":5,"c":5,"x":-2.8,"y":0.00568},{"r":5,"c":5,"x":-2.6,"y":0.00539},{"r":5,"c":5,"x":-2.4,"y":0.00509},{"r":5,"c":5,"x":-2.2,"y":0.00478},{"r":5,"c":5,"x":-2,"y":0.00446},{"r":5,"c":5,"x":-1.8,"y":0.00412},{"r":5,"c":5,"x":-1.6,"y":0.00378},{"r":5,"c":5,"x":-1.4,"y":0.00344},{"r":5,"c":5,"x":-1.2,"y":0.00308},{"r":5,"c":5,"x":-1,"y":0.00272},{"r":5,"c":5,"x":-2.02,"y":0.0048},
{"r":5,"c":6,"x":-5,"y":0.00544},{"r":5,"c":6,"x":-4.8,"y":0.00633},{"r":5,"c":6,"x":-4.6,"y":0.00697},{"r":5,"c":6,"x":-4.4,"y":0.00735},{"r":5,"c":6,"x":-4.2,"y":0.00748},{"r":5,"c":6,"x":-4,"y":0.00735},{"r":5,"c":6,"x":-3.8,"y":0.00716},{"r":5,"c":6,"x":-3.6,"y":0.00694},{"r":5,"c":6,"x":-3.4,"y":0.00669},{"r":5,"c":6,"x":-3.2,"y":0.00643},{"r":5,"c":6,"x":-3,"y":0.00615},{"r":5,"c":6,"x":-2.8,"y":0.00585},{"r":5,"c":6,"x":-2.6,"y":0.00555},{"r":5,"c":6,"x":-2.4,"y":0.00523},{"r":5,"c":6,"x":-2.2,"y":0.0049},{"r":5,"c":6,"x":-2,"y":0.00456},{"r":5,"c":6,"x":-1.8,"y":0.00421},{"r":5,"c":6,"x":-1.6,"y":0.00385},{"r":5,"c":6,"x":-1.4,"y":0.00348},{"r":5,"c":6,"x":-1.2,"y":0.0031},{"r":5,"c":6,"x":-1,"y":0.00272},{"r":5,"c":6,"x":-2.5,"y":0.00585},
{"r":6,"c":1,"x":-5,"y":0.0012},{"r":6,"c":1,"x":-4.8,"y":0.00087},{"r":6,"c":1,"x":-4.6,"y":0.00102},{"r":6,"c":1,"x":-4.4,"y":0.00124},{"r":6,"c":1,"x":-4.2,"y":0.0015},{"r":6,"c":1,"x":-4,"y":0.00176},{"r":6,"c":1,"x":-3.8,"y":0.00198},{"r":6,"c":1,"x":-3.6,"y":0.00213},{"r":6,"c":1,"x":-3.4,"y":0.00218},{"r":6,"c":1,"x":-3.2,"y":0.00211},{"r":6,"c":1,"x":-3,"y":0.00201},{"r":6,"c":1,"x":-2.8,"y":0.00189},{"r":6,"c":1,"x":-2.6,"y":0.00175},{"r":6,"c":1,"x":-2.4,"y":0.00161},{"r":6,"c":1,"x":-2.2,"y":0.00146},{"r":6,"c":1,"x":-2,"y":0.0013},{"r":6,"c":1,"x":-1.8,"y":0.00113},{"r":6,"c":1,"x":-1.6,"y":0.00096},{"r":6,"c":1,"x":-1.4,"y":0.00078},{"r":6,"c":1,"x":-1.2,"y":0.00059},{"r":6,"c":1,"x":-1,"y":0.0004},
{"r":6,"c":2,"x":-5,"y":0.00253},{"r":6,"c":2,"x":-4.8,"y":0.00281},{"r":6,"c":2,"x":-4.6,"y":0.00302},{"r":6,"c":2,"x":-4.4,"y":0.00318},{"r":6,"c":2,"x":-4.2,"y":0.00327},{"r":6,"c":2,"x":-4,"y":0.0033},{"r":6,"c":2,"x":-3.8,"y":0.00322},{"r":6,"c":2,"x":-3.6,"y":0.00311},{"r":6,"c":2,"x":-3.4,"y":0.00299},{"r":6,"c":2,"x":-3.2,"y":0.00284},{"r":6,"c":2,"x":-3,"y":0.00269},{"r":6,"c":2,"x":-2.8,"y":0.00253},{"r":6,"c":2,"x":-2.6,"y":0.00236},{"r":6,"c":2,"x":-2.4,"y":0.00218},{"r":6,"c":2,"x":-2.2,"y":0.00199},{"r":6,"c":2,"x":-2,"y":0.0018},{"r":6,"c":2,"x":-1.8,"y":0.0016},{"r":6,"c":2,"x":-1.6,"y":0.0014},{"r":6,"c":2,"x":-1.4,"y":0.00119},{"r":6,"c":2,"x":-1.2,"y":0.00098},{"r":6,"c":2,"x":-1,"y":0.00076},
{"r":6,"c":3,"x":-5,"y":0.00419},{"r":6,"c":3,"x":-4.8,"y":0.00442},{"r":6,"c":3,"x":-4.6,"y":0.00455},{"r":6,"c":3,"x":-4.4,"y":0.0046},{"r":6,"c":3,"x":-4.2,"y":0.00452},{"r":6,"c":3,"x":-4,"y":0.00439},{"r":6,"c":3,"x":-3.8,"y":0.00425},{"r":6,"c":3,"x":-3.6,"y":0.00409},{"r":6,"c":3,"x":-3.4,"y":0.00392},{"r":6,"c":3,"x":-3.2,"y":0.00374},{"r":6,"c":3,"x":-3,"y":0.00354},{"r":6,"c":3,"x":-2.8,"y":0.00334},{"r":6,"c":3,"x":-2.6,"y":0.00313},{"r":6,"c":3,"x":-2.4,"y":0.00292},{"r":6,"c":3,"x":-2.2,"y":0.0027},{"r":6,"c":3,"x":-2,"y":0.00247},{"r":6,"c":3,"x":-1.8,"y":0.00224},{"r":6,"c":3,"x":-1.6,"y":0.002},{"r":6,"c":3,"x":-1.4,"y":0.00175},{"r":6,"c":3,"x":-1.2,"y":0.0015},{"r":6,"c":3,"x":-1,"y":0.00125},
{"r":6,"c":4,"x":-5,"y":0.0057},{"r":6,"c":4,"x":-4.8,"y":0.00624},{"r":6,"c":4,"x":-4.6,"y":0.00657},{"r":6,"c":4,"x":-4.4,"y":0.00668},{"r":6,"c":4,"x":-4.2,"y":0.00658},{"r":6,"c":4,"x":-4,"y":0.00643},{"r":6,"c":4,"x":-3.8,"y":0.00626},{"r":6,"c":4,"x":-3.6,"y":0.00607},{"r":6,"c":4,"x":-3.4,"y":0.00587},{"r":6,"c":4,"x":-3.2,"y":0.00565},{"r":6,"c":4,"x":-3,"y":0.00542},{"r":6,"c":4,"x":-2.8,"y":0.00518},{"r":6,"c":4,"x":-2.6,"y":0.00493},{"r":6,"c":4,"x":-2.4,"y":0.00467},{"r":6,"c":4,"x":-2.2,"y":0.00441},{"r":6,"c":4,"x":-2,"y":0.00414},{"r":6,"c":4,"x":-1.8,"y":0.00386},{"r":6,"c":4,"x":-1.6,"y":0.00357},{"r":6,"c":4,"x":-1.4,"y":0.00328},{"r":6,"c":4,"x":-1.2,"y":0.00298},{"r":6,"c":4,"x":-1,"y":0.00268},
{"r":6,"c":5,"x":-5,"y":0.00627},{"r":6,"c":5,"x":-4.8,"y":0.00709},{"r":6,"c":5,"x":-4.6,"y":0.00759},{"r":6,"c":5,"x":-4.4,"y":0.00775},{"r":6,"c":5,"x":-4.2,"y":0.00763},{"r":6,"c":5,"x":-4,"y":0.00745},{"r":6,"c":5,"x":-3.8,"y":0.00725},{"r":6,"c":5,"x":-3.6,"y":0.00702},{"r":6,"c":5,"x":-3.4,"y":0.00677},{"r":6,"c":5,"x":-3.2,"y":0.00651},{"r":6,"c":5,"x":-3,"y":0.00623},{"r":6,"c":5,"x":-2.8,"y":0.00594},{"r":6,"c":5,"x":-2.6,"y":0.00565},{"r":6,"c":5,"x":-2.4,"y":0.00534},{"r":6,"c":5,"x":-2.2,"y":0.00502},{"r":6,"c":5,"x":-2,"y":0.00469},{"r":6,"c":5,"x":-1.8,"y":0.00436},{"r":6,"c":5,"x":-1.6,"y":0.00401},{"r":6,"c":5,"x":-1.4,"y":0.00366},{"r":6,"c":5,"x":-1.2,"y":0.0033},{"r":6,"c":5,"x":-1,"y":0.00294},
{"r":6,"c":6,"x":-5,"y":0.00623},{"r":6,"c":6,"x":-4.8,"y":0.00697},{"r":6,"c":6,"x":-4.6,"y":0.0075},{"r":6,"c":6,"x":-4.4,"y":0.00781},{"r":6,"c":6,"x":-4.2,"y":0.00792},{"r":6,"c":6,"x":-4,"y":0.00779},{"r":6,"c":6,"x":-3.8,"y":0.00759},{"r":6,"c":6,"x":-3.6,"y":0.00736},{"r":6,"c":6,"x":-3.4,"y":0.00711},{"r":6,"c":6,"x":-3.2,"y":0.00683},{"r":6,"c":6,"x":-3,"y":0.00654},{"r":6,"c":6,"x":-2.8,"y":0.00623},{"r":6,"c":6,"x":-2.6,"y":0.00591},{"r":6,"c":6,"x":-2.4,"y":0.00558},{"r":6,"c":6,"x":-2.2,"y":0.00524},{"r":6,"c":6,"x":-2,"y":0.00488},{"r":6,"c":6,"x":-1.8,"y":0.00452},{"r":6,"c":6,"x":-1.6,"y":0.00415},{"r":6,"c":6,"x":-1.4,"y":0.00377},{"r":6,"c":6,"x":-1.2,"y":0.00338},{"r":6,"c":6,"x":-1,"y":0.00298},
{"r":7,"c":1,"x":-5,"y":0.00157},{"r":7,"c":1,"x":-4.8,"y":0.00132},{"r":7,"c":1,"x":-4.6,"y":0.00152},{"r":7,"c":1,"x":-4.4,"y":0.00181},{"r":7,"c":1,"x":-4.2,"y":0.00213},{"r":7,"c":1,"x":-4,"y":0.00242},{"r":7,"c":1,"x":-3.8,"y":0.00262},{"r":7,"c":1,"x":-3.6,"y":0.00269},{"r":7,"c":1,"x":-3.4,"y":0.00261},{"r":7,"c":1,"x":-3.2,"y":0.0025},{"r":7,"c":1,"x":-3,"y":0.00236},{"r":7,"c":1,"x":-2.8,"y":0.00222},{"r":7,"c":1,"x":-2.6,"y":0.00206},{"r":7,"c":1,"x":-2.4,"y":0.00189},{"r":7,"c":1,"x":-2.2,"y":0.00171},{"r":7,"c":1,"x":-2,"y":0.00153},{"r":7,"c":1,"x":-1.8,"y":0.00133},{"r":7,"c":1,"x":-1.6,"y":0.00113},{"r":7,"c":1,"x":-1.4,"y":0.00093},{"r":7,"c":1,"x":-1.2,"y":0.00072},{"r":7,"c":1,"x":-1,"y":0.0005},
{"r":7,"c":2,"x":-5,"y":0.00331},{"r":7,"c":2,"x":-4.8,"y":0.00364},{"r":7,"c":2,"x":-4.6,"y":0.00387},{"r":7,"c":2,"x":-4.4,"y":0.00401},{"r":7,"c":2,"x":-4.2,"y":0.00406},{"r":7,"c":2,"x":-4,"y":0.00397},{"r":7,"c":2,"x":-3.8,"y":0.00385},{"r":7,"c":2,"x":-3.6,"y":0.0037},{"r":7,"c":2,"x":-3.4,"y":0.00354},{"r":7,"c":2,"x":-3.2,"y":0.00337},{"r":7,"c":2,"x":-3,"y":0.00318},{"r":7,"c":2,"x":-2.8,"y":0.00298},{"r":7,"c":2,"x":-2.6,"y":0.00278},{"r":7,"c":2,"x":-2.4,"y":0.00257},{"r":7,"c":2,"x":-2.2,"y":0.00235},{"r":7,"c":2,"x":-2,"y":0.00212},{"r":7,"c":2,"x":-1.8,"y":0.00189},{"r":7,"c":2,"x":-1.6,"y":0.00166},{"r":7,"c":2,"x":-1.4,"y":0.00141},{"r":7,"c":2,"x":-1.2,"y":0.00116},{"r":7,"c":2,"x":-1,"y":0.00091},
{"r":7,"c":3,"x":-5,"y":0.00488},{"r":7,"c":3,"x":-4.8,"y":0.0052},{"r":7,"c":3,"x":-4.6,"y":0.00539},{"r":7,"c":3,"x":-4.4,"y":0.00545},{"r":7,"c":3,"x":-4.2,"y":0.00535},{"r":7,"c":3,"x":-4,"y":0.00521},{"r":7,"c":3,"x":-3.8,"y":0.00504},{"r":7,"c":3,"x":-3.6,"y":0.00485},{"r":7,"c":3,"x":-3.4,"y":0.00465},{"r":7,"c":3,"x":-3.2,"y":0.00444},{"r":7,"c":3,"x":-3,"y":0.00422},{"r":7,"c":3,"x":-2.8,"y":0.00398},{"r":7,"c":3,"x":-2.6,"y":0.00374},{"r":7,"c":3,"x":-2.4,"y":0.00349},{"r":7,"c":3,"x":-2.2,"y":0.00323},{"r":7,"c":3,"x":-2,"y":0.00296},{"r":7,"c":3,"x":-1.8,"y":0.00269},{"r":7,"c":3,"x":-1.6,"y":0.00241},{"r":7,"c":3,"x":-1.4,"y":0.00213},{"r":7,"c":3,"x":-1.2,"y":0.00184},{"r":7,"c":3,"x":-1,"y":0.00154},
{"r":7,"c":4,"x":-5,"y":0.00634},{"r":7,"c":4,"x":-4.8,"y":0.00688},{"r":7,"c":4,"x":-4.6,"y":0.00721},{"r":7,"c":4,"x":-4.4,"y":0.00732},{"r":7,"c":4,"x":-4.2,"y":0.00721},{"r":7,"c":4,"x":-4,"y":0.00704},{"r":7,"c":4,"x":-3.8,"y":0.00685},{"r":7,"c":4,"x":-3.6,"y":0.00664},{"r":7,"c":4,"x":-3.4,"y":0.00641},{"r":7,"c":4,"x":-3.2,"y":0.00616},{"r":7,"c":4,"x":-3,"y":0.0059},{"r":7,"c":4,"x":-2.8,"y":0.00563},{"r":7,"c":4,"x":-2.6,"y":0.00536},{"r":7,"c":4,"x":-2.4,"y":0.00507},{"r":7,"c":4,"x":-2.2,"y":0.00477},{"r":7,"c":4,"x":-2,"y":0.00446},{"r":7,"c":4,"x":-1.8,"y":0.00415},{"r":7,"c":4,"x":-1.6,"y":0.00383},{"r":7,"c":4,"x":-1.4,"y":0.0035},{"r":7,"c":4,"x":-1.2,"y":0.00317},{"r":7,"c":4,"x":-1,"y":0.00283},{"r":7,"c":4,"x":-1.78,"y":0.00445},
{"r":7,"c":5,"x":-5,"y":0.0069},{"r":7,"c":5,"x":-4.8,"y":0.00757},{"r":7,"c":5,"x":-4.6,"y":0.00798},{"r":7,"c":5,"x":-4.4,"y":0.00811},{"r":7,"c":5,"x":-4.2,"y":0.00798},{"r":7,"c":5,"x":-4,"y":0.0078},{"r":7,"c":5,"x":-3.8,"y":0.00759},{"r":7,"c":5,"x":-3.6,"y":0.00735},{"r":7,"c":5,"x":-3.4,"y":0.0071},{"r":7,"c":5,"x":-3.2,"y":0.00683},{"r":7,"c":5,"x":-3,"y":0.00654},{"r":7,"c":5,"x":-2.8,"y":0.00624},{"r":7,"c":5,"x":-2.6,"y":0.00594},{"r":7,"c":5,"x":-2.4,"y":0.00562},{"r":7,"c":5,"x":-2.2,"y":0.00529},{"r":7,"c":5,"x":-2,"y":0.00495},{"r":7,"c":5,"x":-1.8,"y":0.0046},{"r":7,"c":5,"x":-1.6,"y":0.00425},{"r":7,"c":5,"x":-1.4,"y":0.00389},{"r":7,"c":5,"x":-1.2,"y":0.00352},{"r":7,"c":5,"x":-1,"y":0.00314},
{"r":7,"c":6,"x":-5,"y":0.00683},{"r":7,"c":6,"x":-4.8,"y":0.00754},{"r":7,"c":6,"x":-4.6,"y":0.00797},{"r":7,"c":6,"x":-4.4,"y":0.00811},{"r":7,"c":6,"x":-4.2,"y":0.00798},{"r":7,"c":6,"x":-4,"y":0.0078},{"r":7,"c":6,"x":-3.8,"y":0.00759},{"r":7,"c":6,"x":-3.6,"y":0.00735},{"r":7,"c":6,"x":-3.4,"y":0.0071},{"r":7,"c":6,"x":-3.2,"y":0.00683},{"r":7,"c":6,"x":-3,"y":0.00654},{"r":7,"c":6,"x":-2.8,"y":0.00624},{"r":7,"c":6,"x":-2.6,"y":0.00594},{"r":7,"c":6,"x":-2.4,"y":0.00562},{"r":7,"c":6,"x":-2.2,"y":0.00529},{"r":7,"c":6,"x":-2,"y":0.00495},{"r":7,"c":6,"x":-1.8,"y":0.0046},{"r":7,"c":6,"x":-1.6,"y":0.00425},{"r":7,"c":6,"x":-1.4,"y":0.00389},{"r":7,"c":6,"x":-1.2,"y":0.00352},{"r":7,"c":6,"x":-1,"y":0.00314},
{"r":8,"c":1,"x":-5,"y":0.00233},{"r":8,"c":1,"x":-4.8,"y":0.00272},{"r":8,"c":1,"x":-4.6,"y":0.00302},{"r":8,"c":1,"x":-4.4,"y":0.00323},{"r":8,"c":1,"x":-4.2,"y":0.00336},{"r":8,"c":1,"x":-4,"y":0.0034},{"r":8,"c":1,"x":-3.8,"y":0.00335},{"r":8,"c":1,"x":-3.6,"y":0.00325},{"r":8,"c":1,"x":-3.4,"y":0.00312},{"r":8,"c":1,"x":-3.2,"y":0.00298},{"r":8,"c":1,"x":-3,"y":0.00283},{"r":8,"c":1,"x":-2.8,"y":0.00266},{"r":8,"c":1,"x":-2.6,"y":0.00248},{"r":8,"c":1,"x":-2.4,"y":0.00229},{"r":8,"c":1,"x":-2.2,"y":0.00208},{"r":8,"c":1,"x":-2,"y":0.00186},{"r":8,"c":1,"x":-1.8,"y":0.00164},{"r":8,"c":1,"x":-1.6,"y":0.00141},{"r":8,"c":1,"x":-1.4,"y":0.00117},{"r":8,"c":1,"x":-1.2,"y":0.00093},{"r":8,"c":1,"x":-1,"y":0.00074},
{"r":8,"c":2,"x":-5,"y":0.00423},{"r":8,"c":2,"x":-4.8,"y":0.00466},{"r":8,"c":2,"x":-4.6,"y":0.00491},{"r":8,"c":2,"x":-4.4,"y":0.005},{"r":8,"c":2,"x":-4.2,"y":0.00491},{"r":8,"c":2,"x":-4,"y":0.00477},{"r":8,"c":2,"x":-3.8,"y":0.00461},{"r":8,"c":2,"x":-3.6,"y":0.00443},{"r":8,"c":2,"x":-3.4,"y":0.00424},{"r":8,"c":2,"x":-3.2,"y":0.00403},{"r":8,"c":2,"x":-3,"y":0.00382},{"r":8,"c":2,"x":-2.8,"y":0.0036},{"r":8,"c":2,"x":-2.6,"y":0.00336},{"r":8,"c":2,"x":-2.4,"y":0.00312},{"r":8,"c":2,"x":-2.2,"y":0.00288},{"r":8,"c":2,"x":-2,"y":0.00262},{"r":8,"c":2,"x":-1.8,"y":0.00236},{"r":8,"c":2,"x":-1.6,"y":0.00209},{"r":8,"c":2,"x":-1.4,"y":0.00182},{"r":8,"c":2,"x":-1.2,"y":0.00154},{"r":8,"c":2,"x":-1,"y":0.00126},{"r":8,"c":2,"x":-2.1,"y":0.00276},
{"r":8,"c":3,"x":-5,"y":0.0058},{"r":8,"c":3,"x":-4.8,"y":0.00627},{"r":8,"c":3,"x":-4.6,"y":0.00642},{"r":8,"c":3,"x":-4.4,"y":0.00631},{"r":8,"c":3,"x":-4.2,"y":0.00616},{"r":8,"c":3,"x":-4,"y":0.00598},{"r":8,"c":3,"x":-3.8,"y":0.00578},{"r":8,"c":3,"x":-3.6,"y":0.00557},{"r":8,"c":3,"x":-3.4,"y":0.00534},{"r":8,"c":3,"x":-3.2,"y":0.0051},{"r":8,"c":3,"x":-3,"y":0.00485},{"r":8,"c":3,"x":-2.8,"y":0.00459},{"r":8,"c":3,"x":-2.6,"y":0.00432},{"r":8,"c":3,"x":-2.4,"y":0.00405},{"r":8,"c":3,"x":-2.2,"y":0.00376},{"r":8,"c":3,"x":-2,"y":0.00347},{"r":8,"c":3,"x":-1.8,"y":0.00317},{"r":8,"c":3,"x":-1.6,"y":0.00287},{"r":8,"c":3,"x":-1.4,"y":0.00256},{"r":8,"c":3,"x":-1.2,"y":0.00224},{"r":8,"c":3,"x":-1,"y":0.00192},{"r":8,"c":3,"x":-1.83,"y":0.00366},
{"r":8,"c":4,"x":-5,"y":0.00704},{"r":8,"c":4,"x":-4.8,"y":0.00764},{"r":8,"c":4,"x":-4.6,"y":0.00784},{"r":8,"c":4,"x":-4.4,"y":0.00773},{"r":8,"c":4,"x":-4.2,"y":0.00756},{"r":8,"c":4,"x":-4,"y":0.00737},{"r":8,"c":4,"x":-3.8,"y":0.00716},{"r":8,"c":4,"x":-3.6,"y":0.00693},{"r":8,"c":4,"x":-3.4,"y":0.00669},{"r":8,"c":4,"x":-3.2,"y":0.00643},{"r":8,"c":4,"x":-3,"y":0.00617},{"r":8,"c":4,"x":-2.8,"y":0.00589},{"r":8,"c":4,"x":-2.6,"y":0.0056},{"r":8,"c":4,"x":-2.4,"y":0.00531},{"r":8,"c":4,"x":-2.2,"y":0.00501},{"r":8,"c":4,"x":-2,"y":0.0047},{"r":8,"c":4,"x":-1.8,"y":0.00438},{"r":8,"c":4,"x":-1.6,"y":0.00405},{"r":8,"c":4,"x":-1.4,"y":0.00372},{"r":8,"c":4,"x":-1.2,"y":0.00338},{"r":8,"c":4,"x":-1,"y":0.00304},
{"r":8,"c":5,"x":-5,"y":0.00745},{"r":8,"c":5,"x":-4.8,"y":0.00796},{"r":8,"c":5,"x":-4.6,"y":0.00827},{"r":8,"c":5,"x":-4.4,"y":0.00837},{"r":8,"c":5,"x":-4.2,"y":0.00824},{"r":8,"c":5,"x":-4,"y":0.00806},{"r":8,"c":5,"x":-3.8,"y":0.00784},{"r":8,"c":5,"x":-3.6,"y":0.0076},{"r":8,"c":5,"x":-3.4,"y":0.00734},{"r":8,"c":5,"x":-3.2,"y":0.00706},{"r":8,"c":5,"x":-3,"y":0.00677},{"r":8,"c":5,"x":-2.8,"y":0.00647},{"r":8,"c":5,"x":-2.6,"y":0.00616},{"r":8,"c":5,"x":-2.4,"y":0.00583},{"r":8,"c":5,"x":-2.2,"y":0.0055},{"r":8,"c":5,"x":-2,"y":0.00515},{"r":8,"c":5,"x":-1.8,"y":0.0048},{"r":8,"c":5,"x":-1.6,"y":0.00444},{"r":8,"c":5,"x":-1.4,"y":0.00407},{"r":8,"c":5,"x":-1.2,"y":0.00369},{"r":8,"c":5,"x":-1,"y":0.00331},
{"r":8,"c":6,"x":-5,"y":0.00745},{"r":8,"c":6,"x":-4.8,"y":0.00796},{"r":8,"c":6,"x":-4.6,"y":0.00827},{"r":8,"c":6,"x":-4.4,"y":0.00837},{"r":8,"c":6,"x":-4.2,"y":0.00824},{"r":8,"c":6,"x":-4,"y":0.00806},{"r":8,"c":6,"x":-3.8,"y":0.00784},{"r":8,"c":6,"x":-3.6,"y":0.0076},{"r":8,"c":6,"x":-3.4,"y":0.00734},{"r":8,"c":6,"x":-3.2,"y":0.00706},{"r":8,"c":6,"x":-3,"y":0.00677},{"r":8,"c":6,"x":-2.8,"y":0.00647},{"r":8,"c":6,"x":-2.6,"y":0.00616},{"r":8,"c":6,"x":-2.4,"y":0.00583},{"r":8,"c":6,"x":-2.2,"y":0.0055},{"r":8,"c":6,"x":-2,"y":0.00515},{"r":8,"c":6,"x":-1.8,"y":0.0048},{"r":8,"c":6,"x":-1.6,"y":0.00444},{"r":8,"c":6,"x":-1.4,"y":0.00407},{"r":8,"c":6,"x":-1.2,"y":0.00369},{"r":8,"c":6,"x":-1,"y":0.00331},
{"r":1,"c":8,"x":-3,"y":0,"e":1},{"r":2,"c":8,"x":-3,"y":0,"e":1},
{"r":3,"c":7,"x":-3,"y":0,"e":1},{"r":3,"c":8,"x":-3,"y":0,"e":1},
{"r":4,"c":7,"x":-3,"y":0,"e":1},{"r":4,"c":8,"x":-3,"y":0,"e":1},
{"r":5,"c":7,"x":-3,"y":0,"e":1},{"r":5,"c":8,"x":-3,"y":0,"e":1},
{"r":6,"c":7,"x":-3,"y":0,"e":1},{"r":6,"c":8,"x":-3,"y":0,"e":1},
{"r":7,"c":7,"x":-3,"y":0,"e":1},{"r":7,"c":8,"x":-3,"y":0,"e":1},
{"r":8,"c":7,"x":-3,"y":0,"e":1},{"r":8,"c":8,"x":-3,"y":0,"e":1}
]},
"facet": {
  "row": {"field": "r", "type": "ordinal", "title": null, "header": {"labels": false, "title": null}},
  "column": {"field": "c", "type": "ordinal", "title": null, "header": {"labels": false, "title": null}}
},
"spec": {
  "width": 173.5,
  "height": 202.7,
  "layer": [
    {"transform": [{"filter": "datum.e != 1 && datum.x == round(datum.x)"}],
     "mark": {"type": "rule", "stroke": "#aaaaaa", "strokeWidth": 1.2, "strokeDash": [1.5, 6.8]},
     "encoding": {"x": {"field": "x", "type": "quantitative"}}},
    {"transform": [{"filter": "datum.e != 1 && datum.x == -5"}],
     "mark": {"type": "rule", "stroke": "#aaaaaa", "strokeWidth": 1.2, "strokeDash": [1.5, 6.8]},
     "encoding": {"y": {"datum": 0}}},
    {"transform": [{"filter": "datum.e != 1 && datum.x == -5"}],
     "mark": {"type": "rule", "stroke": "#aaaaaa", "strokeWidth": 1.2, "strokeDash": [1.5, 6.8]},
     "encoding": {"y": {"datum": 0.002}}},
    {"transform": [{"filter": "datum.e != 1 && datum.x == -5"}],
     "mark": {"type": "rule", "stroke": "#aaaaaa", "strokeWidth": 1.2, "strokeDash": [1.5, 6.8]},
     "encoding": {"y": {"datum": 0.004}}},
    {"transform": [{"filter": "datum.e != 1 && datum.x == -5"}],
     "mark": {"type": "rule", "stroke": "#aaaaaa", "strokeWidth": 1.2, "strokeDash": [1.5, 6.8]},
     "encoding": {"y": {"datum": 0.006}}},
    {"transform": [{"filter": "datum.e != 1 && datum.x == -5"}],
     "mark": {"type": "rule", "stroke": "#aaaaaa", "strokeWidth": 1.2, "strokeDash": [1.5, 6.8]},
     "encoding": {"y": {"datum": 0.008}}},
    {"transform": [{"filter": "datum.e != 1 && datum.x == -5"}],
     "mark": {"type": "rule", "stroke": "#aaaaaa", "strokeWidth": 1.2, "strokeDash": [1.5, 6.8]},
     "encoding": {"y": {"datum": 0.01}}},
    {"transform": [{"filter": "datum.e != 1"}],
     "mark": {"type": "point", "shape": "circle", "filled": false, "color": "#0000ff", "size": 62, "strokeWidth": 1.9, "opacity": 1},
     "encoding": {
       "x": {"field": "x", "type": "quantitative",
             "scale": {"domain": [-5.16, -0.84], "nice": false, "zero": false},
             "axis": {"values": [-4, -3, -2, -1], "tickSize": 12, "labelPadding": 14, "labelExpr": "datum.value % 2 == 0 ? datum.label : ''", "title": null, "grid": false, "domain": false}},
       "y": {"field": "y", "type": "quantitative",
             "scale": {"domain": [-0.00041, 0.01043], "nice": false, "zero": false},
             "axis": {"values": [0, 0.002, 0.004, 0.006, 0.008], "format": ".3f", "tickSize": 13, "labelPadding": 14, "title": null, "grid": false, "domain": false}}
     }}
  ]
}
}
